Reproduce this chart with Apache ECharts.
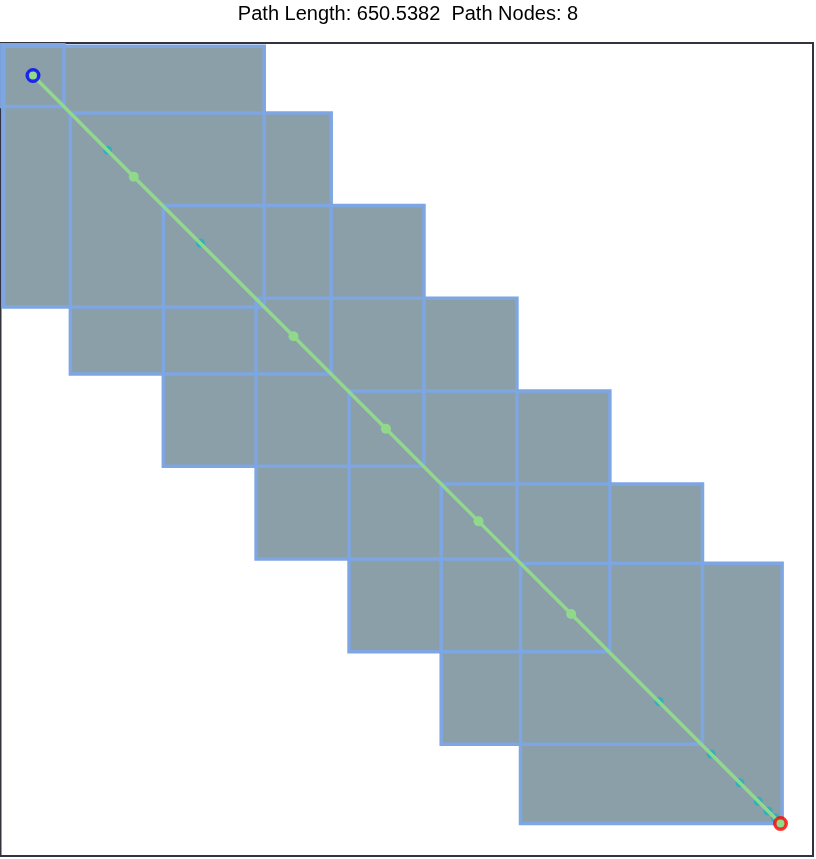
<!DOCTYPE html>
<html>
<head>
<meta charset="utf-8">
<script src="https://cdn.jsdelivr.net/npm/echarts@6/dist/echarts.min.js"></script>
<style>
  html, body { margin: 0; padding: 0; background: #ffffff; }
  #chart { width: 816px; height: 859px; }
</style>
</head>
<body>
<div id="chart"></div>
<script>
// ---- data (plot units, y grows downward) ----
const titleText = 'Path Length: 650.5382  Path Nodes: 8';

// boxes (free-space squares) : left, top, right, bottom
const boxLeft   = [2,     0.8,  43,    100.2, 157.3, 214.5, 271.2, 320];
const boxTop    = [2,     1,    43,    100,   157,   214,   271.2, 320];
const boxRight  = [162.3, 39,   203.5, 260.6, 317.8, 375,   432,   481];
const boxBottom = [162.3, 39,   203.5, 260.3, 317.3, 374.4, 431.3, 480];

// path nodes (green) along the diagonal
const nodeX = [20, 82, 180.3, 237.2, 294.2, 351.2, 480];
const nodeY = [20, 82.2, 180.3, 237.2, 294.2, 351.2, 480];

// sampled intermediate points (cyan)
const sampleX = [66, 123, 405.2, 437.3, 455, 466.3, 472.4, 476.8];
const sampleY = [66, 123, 405, 437.3, 455, 466.3, 472.3, 476.5];

const startPt = [20, 20];
const endPt = [480, 480];

// ---- build ----
const boxData = boxLeft.map((l, i) => [l, boxTop[i], boxRight[i], boxBottom[i]]);
const nodeData = nodeX.map((x, i) => [x, nodeY[i]]);
const sampleData = sampleX.map((x, i) => [x, sampleY[i]]);

function boxRenderer(fill, stroke, lw) {
  return function (params, api) {
    const p1 = api.coord([api.value(0), api.value(1)]);
    const p2 = api.coord([api.value(2), api.value(3)]);
    return {
      type: 'rect',
      shape: {
        x: Math.min(p1[0], p2[0]),
        y: Math.min(p1[1], p2[1]),
        width: Math.abs(p2[0] - p1[0]),
        height: Math.abs(p2[1] - p1[1])
      },
      style: { fill: fill, stroke: stroke, lineWidth: lw }
    };
  };
}

const chart = echarts.init(document.getElementById('chart'), null, { renderer: 'canvas' });
chart.setOption({
  animation: false,
  backgroundColor: '#ffffff',
  title: {
    text: titleText,
    left: 'center',
    top: -1,
    textStyle: { fontFamily: 'Liberation Sans, Arial, sans-serif', fontSize: 20, fontWeight: 'normal', color: '#000000' }
  },
  grid: {
    left: 0.5, right: 3, top: 43, bottom: 3,
    show: true, borderColor: '#33333f', borderWidth: 2, backgroundColor: 'transparent'
  },
  xAxis: { type: 'value', min: 0, max: 500, show: false },
  yAxis: { type: 'value', min: 0, max: 500, inverse: true, show: false },
  series: [
    {
      type: 'custom', z: 1, data: boxData, clip: false,
      renderItem: boxRenderer('#8b9fa8', null, 0)
    },
    {
      type: 'custom', z: 2, data: boxData, clip: false,
      renderItem: boxRenderer('none', '#7ea6e2', 3.5)
    },
    {
      type: 'scatter', z: 3, data: sampleData, symbol: 'circle', symbolSize: 9,
      itemStyle: { color: '#1db3bf' }
    },
    {
      type: 'line', z: 4, data: nodeData, symbol: 'circle', symbolSize: 10, showSymbol: true,
      lineStyle: { color: '#90d98a', width: 3.5 },
      itemStyle: { color: '#90d98a', borderWidth: 0 }
    },
    {
      type: 'scatter', z: 5, data: [startPt], symbol: 'circle', symbolSize: 11.5,
      itemStyle: { color: '#90d98a', borderColor: '#0000ff', borderWidth: 3.5 }
    },
    {
      type: 'scatter', z: 5, data: [endPt], symbol: 'circle', symbolSize: 11.5,
      itemStyle: { color: '#90d98a', borderColor: '#ff0000', borderWidth: 3.5 }
    }
  ]
});
</script>
</body>
</html>
